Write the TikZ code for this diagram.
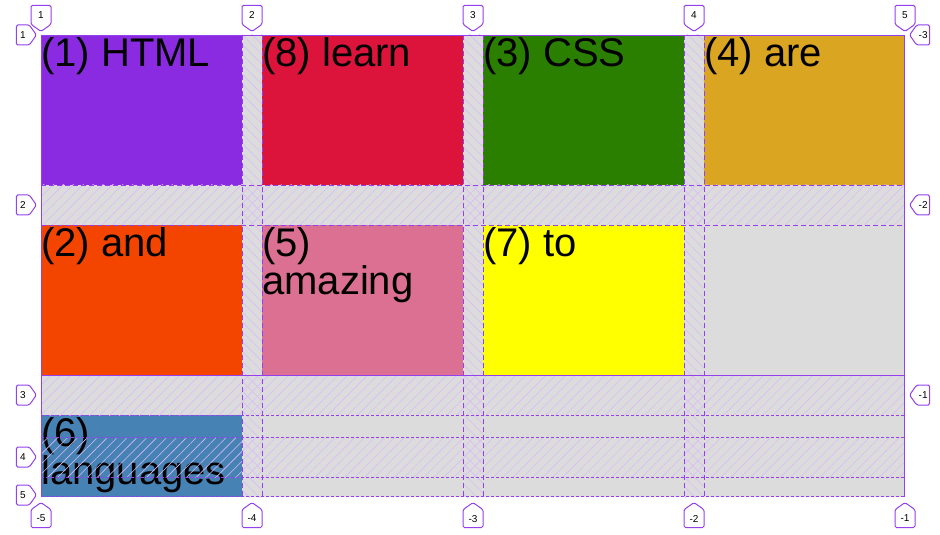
\documentclass[tikz,border=0pt]{standalone}
\usepackage{fontspec}
\setmainfont{Liberation Sans}
\usetikzlibrary{shapes.symbols,patterns.meta}

\definecolor{gridline}{HTML}{9440EE}
\definecolor{gridbg}{HTML}{DCDCDC}
\definecolor{htmlpurple}{HTML}{8A2BE2}
\definecolor{learnred}{HTML}{DC143C}
\definecolor{cssgreen}{HTML}{2B7F00}
\definecolor{aregold}{HTML}{DAA520}
\definecolor{andorange}{HTML}{F44500}
\definecolor{amazingpink}{HTML}{DB7093}
\definecolor{toyellow}{HTML}{FFFF00}
\definecolor{langblue}{HTML}{4682B4}

\begin{document}
\begin{tikzpicture}[
        x=1bp,
        y=-1bp,
        cell/.style={
            rectangle,
            inner sep=0pt,
            minimum width=201bp,
            minimum height=150bp,
            anchor=north west
        },
        word/.style={
            anchor=north west,
            inner sep=0pt,
            align=left,
            font=\fontsize{40bp}{38.5bp}\selectfont
        },
        rowgap/.style={
            pattern={Lines[angle=45,distance=7bp,line width=0.6bp]},
            pattern color=gridline!35
        },
        colgap/.style={
            pattern={Lines[angle=-45,distance=7bp,line width=0.6bp]},
            pattern color=gridline!35
        },
        gridsolid/.style={
            draw=gridline,
            line width=1.2bp
        },
        griddash/.style={
            draw=gridline,
            line width=1.1bp,
            dash pattern=on 5bp off 3bp
        },
        gridimplicit/.style={
            draw=gridline,
            line width=1.1bp,
            dash pattern=on 2.5bp off 2.5bp
        },
        numtag/.style={
            signal,
            draw=gridline,
            fill=white,
            line width=1bp,
            inner sep=0pt,
            rounded corners=1.5bp,
            signal pointer angle=110,
            font=\fontsize{10bp}{12bp}\selectfont
        },
        tagdown/.style={numtag, signal to=south, minimum width=20bp, minimum height=21bp, anchor=south},
        tagup/.style={numtag, signal to=north, minimum width=20bp, minimum height=21bp, anchor=north},
        tagright/.style={numtag, signal to=east, minimum width=20bp, minimum height=20bp, anchor=east},
        tagleft/.style={numtag, signal to=west, minimum width=20bp, minimum height=20bp, anchor=west}
    ]

    \useasboundingbox (0,0) rectangle (940,535);

    \fill[gridbg] (41,35) rectangle (905,497);

    \node[cell, fill=htmlpurple] (html) at (41,35) {};
    \node[cell, fill=learnred] (learn) at (262,35) {};
    \node[cell, fill=cssgreen] (css) at (483,35) {};
    \node[cell, fill=aregold] (are) at (704,35) {};
    \node[cell, fill=andorange] (and) at (41,225) {};
    \node[cell, fill=amazingpink] (amazing) at (262,225) {};
    \node[cell, fill=toyellow] (to) at (483,225) {};
    \node[cell, fill=langblue, minimum height=82bp] (languages) at (41,415) {};

    \node[word] (htmltext) at ([yshift=-2bp]html.north west) {(1) HTML};
    \node[word] (learntext) at ([yshift=-2bp]learn.north west) {(8) learn};
    \node[word] (csstext) at ([yshift=-2bp]css.north west) {(3) CSS};
    \node[word] (aretext) at ([yshift=-2bp]are.north west) {(4) are};
    \node[word] (andtext) at ([yshift=-2bp]and.north west) {(2) and};
    \node[word] (amazingtext) at ([yshift=-2bp]amazing.north west) {(5)\\amazing};
    \node[word] (totext) at ([yshift=-2bp]to.north west) {(7) to};
    \node[word] (languagestext) at ([yshift=-2bp]languages.north west) {(6)\\languages};

    \foreach \y in {185,375,437}
        \fill[rowgap] (41,\y) rectangle (905,\y+40);
    \foreach \x in {242,463,684}
        \fill[colgap] (\x,35) rectangle (\x+20,497);

    \foreach \x in {242,262,463,483,684,704}
        \draw[griddash] (\x+0.5,35) -- (\x+0.5,497);
    \foreach \y in {185,225}
        \draw[griddash] (41,\y+0.5) -- (905,\y+0.5);
    \foreach \y in {415,437,477,496}
        \draw[gridimplicit] (41,\y+0.5) -- (905,\y+0.5);
    \draw[gridsolid] (41.5,497) -- (41.5,35.5) -- (904.5,35.5) -- (904.5,497);
    \draw[gridsolid] (41,375.5) -- (905,375.5);

    \node[tagdown] (col1) at (41,32) {1};
    \node[tagdown] (col2) at (252,32) {2};
    \node[tagdown] (col3) at (473,32) {3};
    \node[tagdown] (col4) at (694,32) {4};
    \node[tagdown] (col5) at (905,32) {5};

    \node[tagup] (colm5) at (41,502) {-5};
    \node[tagup] (colm4) at (252,502) {-4};
    \node[tagup] (colm3) at (473,502) {-3};
    \node[tagup] (colm2) at (694,502) {-2};
    \node[tagup] (colm1) at (905,502) {-1};

    \node[tagright] (row1) at (37,35) {1};
    \node[tagright] (row2) at (37,205) {2};
    \node[tagright] (row3) at (37,395) {3};
    \node[tagright] (row4) at (37,457) {4};
    \node[tagright] (row5) at (37,495) {5};

    \node[tagleft] (rowm3) at (909,35) {-3};
    \node[tagleft] (rowm2) at (909,205) {-2};
    \node[tagleft] (rowm1) at (909,395) {-1};

\end{tikzpicture}
\end{document}
